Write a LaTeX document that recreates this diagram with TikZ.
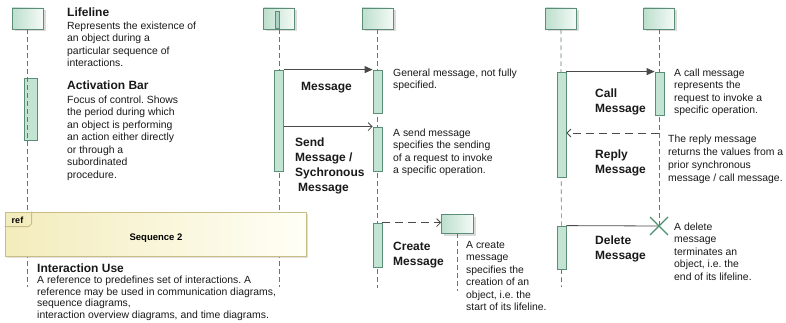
\documentclass[tikz,border=0pt]{standalone}
\usepackage{fontspec}
\setmainfont{Liberation Sans}
\usetikzlibrary{arrows.meta,shadows,calc}
\frenchspacing
\definecolor{hdL}{HTML}{BCDFCD}
\definecolor{hdR}{HTML}{F4FAF7}
\definecolor{grnB}{HTML}{5C8E77}
\definecolor{barF}{HTML}{C3E3D3}
\definecolor{lifeC}{HTML}{5E7D70}
\definecolor{msgC}{HTML}{4A4A4A}
\definecolor{xC}{HTML}{4F8F6E}
\definecolor{refL}{HTML}{F3ECBC}
\definecolor{refR}{HTML}{FFFFF6}
\definecolor{refB}{HTML}{C8BD86}
\newcommand\bodyf{\fontsize{10.4}{12.5}\selectfont}
\newcommand\labf{\bfseries\fontsize{12}{14.8}\selectfont}
\tikzset{
  head/.style={draw=grnB, line width=0.8pt, left color=hdL, right color=hdR,
    minimum width=31pt, minimum height=21pt, inner sep=0,
    drop shadow={shadow xshift=2.5pt, shadow yshift=-2.5pt, fill=black!35, opacity=.4}},
  bar/.style={draw=grnB, fill=barF, line width=0.8pt, inner sep=0, minimum width=9pt},
  life/.style={draw=lifeC, line width=0.7pt, dash pattern=on 4.5pt off 3.5pt},
  msg/.style={draw=msgC, line width=0.8pt},
  tri/.style={msg, -{Triangle[length=8pt,width=7pt]}},
  opn/.style={msg, -{Straight Barb[length=4pt,width=8pt,line width=0.8pt]}},
  dsh/.style={dash pattern=on 8pt off 5pt},
  txt/.style={anchor=north west, inner sep=0, align=left, font=\bodyf, text=black!90},
  lab/.style={anchor=north west, inner sep=0, align=left, font=\labf, text=black!90},
}
\begin{document}
\begin{tikzpicture}[x=1pt,y=-1pt]
\useasboundingbox (0,0) rectangle (786,323);
% ---------- lifeline 1 (legend) ----------
\node[head] (h1) at (27.5,18.5) {};
\coordinate (e1) at (27.5,287);
\node[bar, minimum width=13pt, minimum height=62pt] (b0) at (30.5,109) {};
\draw[life] (h1.south) -- (e1);
% ---------- lifelines A,B ----------
\node[head] (hA) at (279,18.5) {};
\node[draw=grnB, fill=barF!80!grnB, line width=0.5pt, inner sep=0, minimum width=3.5pt, minimum height=17pt] (hAbar) at (277,20) {};
\node[head] (hB) at (377.5,18.5) {};
\coordinate (eA) at (279,287);
\coordinate (eB) at (377.5,288);
\draw[life] (hA.south) -- (eA);
\draw[life] (hB.south) -- (eB);
% ---------- lifelines C,D ----------
\node[head] (hC) at (561,18.5) {};
\node[head] (hD) at (659,18.5) {};
\coordinate (eC) at (561.5,287);
\coordinate (xd) at (659,226);
\draw[life] (hC.south) -- (eC);
\draw[life] (hD.south) -- (xd);
% ---------- created object ----------
\node[head, minimum width=32pt, minimum height=19pt] (hE) at (457.5,223.5) {};
\coordinate (eE) at (457.5,291);
\draw[life] (hE.south) -- (eE);
% ---------- activation bars ----------
\node[bar, minimum height=101pt] (a1) at (279,120.5) {};
\node[bar, minimum height=43pt] (b1) at (377.5,91.5) {};
\node[bar, minimum height=44pt] (b2) at (377.5,149) {};
\node[bar, minimum height=44pt] (b3) at (377.5,245) {};
\node[bar, minimum height=105pt] (c1) at (561.5,124.5) {};
\node[bar, minimum height=43pt] (c2) at (561.5,247.5) {};
\node[bar, minimum height=43pt] (d1) at (659.5,93.5) {};
% ---------- messages ----------
\draw[tri] (a1.north east) -- (b1.north west);
\draw[opn] (a1.east |- b2.north) -- (b2.north west);
\draw[opn, dsh] (b3.north east) -- (b3.north east -| hE.west);
\draw[tri] (c1.north east) -- (d1.north west);
\coordinate (rp) at (659,133);
\draw[opn, dsh] (rp) -- (c1.east |- rp);
\draw[msg] (c2.north east) -- (xd);
\draw[xC, line width=1.3pt] ($(xd)+(-9,-9)$) -- ($(xd)+(9,9)$) ($(xd)+(-9,9)$) -- ($(xd)+(9,-9)$);
% ---------- interaction use ----------
\node[draw=refB, line width=0.8pt, left color=refL, right color=refR, minimum width=301pt, minimum height=44pt, inner sep=0,
  drop shadow={shadow xshift=1.5pt, shadow yshift=-1.5pt, fill=black!30, opacity=.4}] (ref) at (155.5,234) {};
\draw[refB, line width=0.8pt] (ref.north west) ++(0,15) -- ++(24,0) -- ++(3,-3) -- ++(0,-12);
\node[font=\bfseries\fontsize{9}{10}\selectfont, inner sep=0] (reft) at (17.5,220) {ref};
\node[font=\bfseries\fontsize{9.5}{11}\selectfont, inner sep=0] (seq) at (156,238) {Sequence 2};
% ---------- texts ----------
\node[lab] (t1h) at (67,7.8) {Lifeline};
\node[txt] (t1) at (67,21.4) {Represents the existence of\\an object during a\\particular sequence of\\interactions.};
\node[lab] (t2h) at (67,80.8) {Activation Bar};
\node[txt] (t2) at (67,95.4) {Focus of control. Shows\\the period during which\\an object is performing\\an action either directly\\or through a\\subordinated\\procedure.};
\node[lab] (t3h) at (37,263.8) {Interaction Use};
\node[txt, font=\fontsize{10.4}{11.8}\selectfont] (t3) at (37,275.6) {A reference to predefines set of interactions. A\\reference may be used in communication diagrams,\\sequence diagrams,\\interaction overview diagrams, and time diagrams.};
\node[lab] (l1) at (301,81.8) {Message};
\node[lab] (l2) at (295,137.8) {Send\\Message /\\Sychronous\\\hspace*{3pt}Message};
\node[txt] (t4) at (393,68.4) {General message, not fully\\specified.};
\node[txt] (t5) at (393,128.4) {A send message\\specifies the sending\\of a request to invoke\\a specific operation.};
\node[lab] (l3) at (393,242) {Create\\Message};
\node[txt] (t6) at (466,241) {A create\\message\\specifies the\\creation of an\\object, i.e. the\\start of its lifeline.};
\node[lab] (l4) at (595,88.8) {Call\\Message};
\node[txt] (t7) at (674,68.4) {A call message\\represents the\\request to invoke a\\specific operation.};
\node[lab] (l5) at (595,149.8) {Reply\\Message};
\node[txt, font=\fontsize{10.4}{13}\selectfont] (t8) at (668,134.4) {The reply message\\returns the values from a\\prior synchronous\\message / call message.};
\node[lab] (l6) at (595,235.8) {Delete\\Message};
\node[txt] (t9) at (674,222.4) {A delete\\message\\terminates an\\object, i.e. the\\end of its lifeline.};
\end{tikzpicture}
\end{document}
